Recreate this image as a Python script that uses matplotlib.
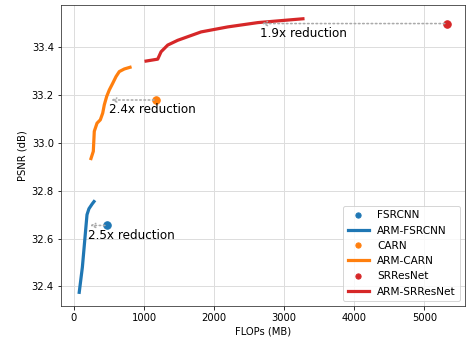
import numpy as np
import matplotlib
matplotlib.use("Agg")
import matplotlib.pyplot as plt

# Data
fsrcnn_pt = (471, 32.655)
arm_fsrcnn_flops = [75, 120, 186, 214, 260, 286]
arm_fsrcnn_psnr = [32.375, 32.48, 32.70, 32.725, 32.745, 32.755]

carn_pt = (1171, 33.18)
arm_carn_flops = [243, 276, 290, 329, 376, 410, 433, 467, 504, 553, 600, 647, 719, 800]
arm_carn_psnr = [32.935, 32.965, 33.049, 33.083, 33.097, 33.125, 33.16,
                 33.195, 33.222, 33.25, 33.278, 33.299, 33.31, 33.317]

srresnet_pt = (5320, 33.50)
arm_srresnet_flops = [1029, 1195, 1243, 1338, 1481, 1814, 2195, 2624, 3267]
arm_srresnet_psnr = [33.343, 33.351, 33.382, 33.41, 33.43, 33.465, 33.486, 33.504, 33.52]

reductions = ["2.5x reduction", "2.4x reduction", "1.9x reduction"]
arrow_tips = [200, 500, 2650]

fig = plt.figure(figsize=(6.5, 340 / 72), dpi=72)
ax = fig.add_subplot(111)
fig.subplots_adjust(left=0.13, right=0.994, top=0.985, bottom=0.1)

colors = ["tab:blue", "tab:orange", "tab:red"]
names = ["FSRCNN", "CARN", "SRResNet"]
pts = [fsrcnn_pt, carn_pt, srresnet_pt]
lines = [(arm_fsrcnn_flops, arm_fsrcnn_psnr),
         (arm_carn_flops, arm_carn_psnr),
         (arm_srresnet_flops, arm_srresnet_psnr)]

for c, n, p, (lx, ly) in zip(colors, names, pts, lines):
    ax.plot([p[0]], [p[1]], "o", color=c, markersize=7.5, label=n)
    ax.plot(lx, ly, "-", color=c, linewidth=3.2, label="ARM-" + n)

# dotted arrows from baseline to matching ARM point
for p, tip, txt in zip(pts, arrow_tips, reductions):
    ax.annotate("", xy=(tip, p[1]), xytext=(p[0], p[1]),
                arrowprops=dict(arrowstyle="->", linestyle=":", color="#aaaaaa", lw=1.6))
    ax.text(tip, p[1] - 0.014, txt, fontsize=12, ha="left", va="top")

ax.grid(True, color="#dddddd", linewidth=1.0)
ax.set_axisbelow(True)
for s in ax.spines.values():
    s.set_color("#333333")
ax.set_xlabel("FLOPs (MB)")
ax.set_ylabel("PSNR (dB)")
ax.legend(loc="lower right", markerscale=0.7, fontsize=10.5)

fig.savefig("out.png", dpi=72)
